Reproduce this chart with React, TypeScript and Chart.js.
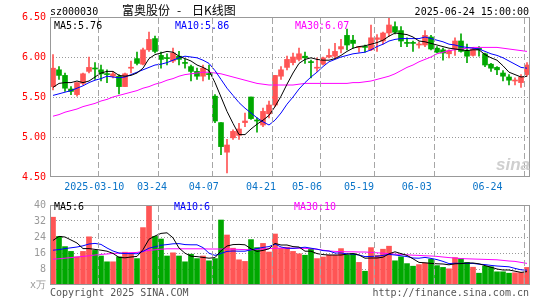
import React, { useEffect, useRef } from "react";
import { Chart, registerables } from "chart.js";

Chart.register(...registerables);

// ---------------- data ----------------
const dates = [
  "02-26","02-27","02-28","03-03","03-04","03-05","03-06","03-07","03-10","03-11",
  "03-12","03-13","03-14","03-17","03-18","03-19","03-20","03-21","03-24","03-25",
  "03-26","03-27","03-28","03-31","04-01","04-02","04-03","04-07","04-08","04-09",
  "04-10","04-11","04-14","04-15","04-16","04-17","04-18","04-21","04-22","04-23",
  "04-24","04-25","04-28","04-29","04-30","05-06","05-07","05-08","05-09","05-12",
  "05-13","05-14","05-15","05-16","05-19","05-20","05-21","05-22","05-23","05-26",
  "05-27","05-28","05-29","05-30","06-03","06-04","06-05","06-06","06-09","06-10",
  "06-11","06-12","06-13","06-16","06-17","06-18","06-19","06-20","06-23","06-24",
];

const openP = [
  5.63,5.84,5.77,5.60,5.53,5.67,5.82,5.86,5.84,5.79,
  5.76,5.76,5.63,5.86,5.98,5.91,6.09,6.23,6.02,5.99,
  5.95,6.01,5.93,5.88,5.82,5.76,5.79,5.51,5.18,4.81,
  4.99,5.02,5.18,5.50,5.21,5.15,5.29,5.40,5.76,5.87,
  5.93,5.97,6.01,5.94,5.86,5.91,6.00,6.01,6.10,6.27,
  6.21,6.12,6.13,6.09,6.22,6.20,6.30,6.38,6.33,6.18,
  6.18,6.15,6.15,6.25,6.11,6.09,6.04,6.10,6.20,6.08,
  6.02,6.11,6.04,5.91,5.87,5.80,5.75,5.70,5.68,5.78,
];
const highP = [
  6.03,5.88,5.80,5.63,5.68,5.80,6.00,5.93,5.90,5.84,
  5.81,5.78,5.80,5.95,6.06,6.11,6.31,6.26,6.06,6.04,
  6.11,6.07,5.97,5.90,5.86,5.90,5.90,5.53,5.18,4.97,
  5.09,5.17,5.30,5.50,5.24,5.36,5.45,5.77,5.88,6.01,
  6.05,6.11,6.06,5.96,5.99,6.00,6.10,6.17,6.22,6.35,
  6.27,6.13,6.15,6.40,6.28,6.31,6.49,6.44,6.38,6.24,
  6.20,6.19,6.33,6.27,6.13,6.11,6.09,6.24,6.29,6.16,
  6.12,6.13,6.05,5.92,5.88,5.83,5.78,5.74,5.78,5.93,
];
const lowP = [
  5.59,5.72,5.57,5.53,5.51,5.65,5.80,5.72,5.70,5.68,
  5.74,5.54,5.63,5.80,5.90,5.90,6.07,6.05,5.86,5.90,
  5.93,5.90,5.86,5.70,5.72,5.70,5.72,5.18,4.78,4.55,
  4.97,4.97,5.13,5.22,5.06,5.13,5.24,5.38,5.72,5.84,
  5.90,5.95,5.92,5.74,5.82,5.90,5.99,5.99,6.05,6.09,
  6.11,6.06,6.06,6.08,6.07,6.16,6.26,6.29,6.13,6.13,
  6.07,6.11,6.13,6.09,6.05,5.96,5.99,6.02,6.06,5.93,
  6.01,6.01,5.88,5.82,5.78,5.70,5.65,5.65,5.62,5.76,
];
const closeP = [
  5.86,5.77,5.61,5.57,5.68,5.79,5.87,5.85,5.79,5.78,
  5.79,5.63,5.79,5.87,5.92,6.09,6.22,6.07,5.97,5.98,
  6.05,5.97,5.92,5.82,5.76,5.86,5.78,5.20,4.88,4.90,
  5.07,5.10,5.20,5.23,5.20,5.32,5.40,5.77,5.84,5.97,
  6.00,6.04,5.99,5.93,5.87,5.99,6.02,6.07,6.13,6.15,
  6.17,6.13,6.12,6.24,6.24,6.30,6.40,6.31,6.20,6.17,
  6.17,6.16,6.27,6.10,6.06,6.05,6.08,6.20,6.07,6.01,
  6.10,6.09,5.90,5.86,5.84,5.76,5.71,5.71,5.75,5.90,
];

const ma5 = [
  5.62,5.67,5.68,5.68,5.70,5.68,5.70,5.75,5.80,5.82,
  5.82,5.77,5.76,5.77,5.80,5.86,5.98,6.03,6.05,6.07,
  6.06,6.01,5.98,5.95,5.90,5.87,5.83,5.68,5.50,5.32,
  5.17,5.03,5.03,5.10,5.16,5.21,5.27,5.38,5.51,5.66,
  5.80,5.92,5.97,5.99,5.97,5.96,5.96,5.98,6.02,6.07,
  6.11,6.13,6.14,6.16,6.18,6.21,6.26,6.30,6.29,6.28,
  6.25,6.20,6.19,6.17,6.15,6.13,6.11,6.10,6.09,6.08,
  6.09,6.09,6.03,5.99,5.96,5.89,5.81,5.78,5.75,5.76,
];
const ma10 = [
  5.52,5.54,5.56,5.58,5.61,5.64,5.68,5.71,5.73,5.76,
  5.75,5.74,5.75,5.78,5.81,5.84,5.87,5.90,5.91,5.93,
  5.96,5.99,6.01,6.00,5.99,5.96,5.92,5.83,5.72,5.61,
  5.52,5.43,5.36,5.30,5.24,5.19,5.15,5.21,5.30,5.41,
  5.50,5.60,5.68,5.75,5.81,5.88,5.94,5.97,6.00,6.02,
  6.04,6.05,6.06,6.09,6.13,6.16,6.20,6.22,6.23,6.23,
  6.23,6.23,6.25,6.23,6.21,6.19,6.16,6.15,6.13,6.12,
  6.11,6.10,6.07,6.04,6.02,5.99,5.95,5.91,5.87,5.86,
];
const ma30 = [
  5.26,5.28,5.31,5.33,5.35,5.38,5.40,5.42,5.45,5.47,
  5.50,5.52,5.54,5.56,5.58,5.61,5.63,5.66,5.68,5.71,
  5.73,5.76,5.78,5.79,5.80,5.81,5.81,5.80,5.79,5.77,
  5.75,5.73,5.71,5.69,5.67,5.66,5.65,5.65,5.65,5.65,
  5.65,5.66,5.67,5.67,5.67,5.67,5.67,5.67,5.67,5.67,
  5.68,5.68,5.69,5.70,5.72,5.74,5.76,5.79,5.83,5.87,
  5.90,5.94,5.97,6.00,6.04,6.06,6.08,6.09,6.10,6.11,
  6.12,6.12,6.12,6.12,6.12,6.11,6.10,6.09,6.08,6.07,
];

const volume = [
  33.9,24.3,19.2,16.8,14.1,16.8,24.1,17.3,14.5,11.6,
  11.6,14.1,16.4,16.1,13.2,28.7,40.0,24.3,23.0,14.5,
  16.1,14.5,11.6,15.4,13.2,14.5,12.1,13.2,32.5,25.0,
  18.4,12.6,11.8,22.7,18.7,20.8,16.5,25.5,18.4,18.9,
  16.8,15.6,14.9,18.1,13.2,14.0,14.9,14.9,18.2,14.9,
  15.7,11.3,6.9,18.7,14.9,17.9,19.4,12.1,14.1,10.7,
  9.4,10.2,11.0,12.9,9.7,8.8,8.1,13.7,13.2,11.3,
  8.9,5.9,9.4,9.1,6.6,6.6,5.9,6.1,6.2,8.8,
];
const volMa5 = [
  22.3,24.3,24.0,22.5,21.0,18.2,18.2,17.8,17.4,16.9,
  15.8,13.8,13.6,14.0,14.3,17.7,22.9,24.5,25.8,26.1,
  23.6,18.5,15.9,14.4,14.2,13.8,13.4,13.7,17.1,19.5,
  20.2,20.3,20.1,18.1,16.8,17.3,18.1,20.8,20.0,20.0,
  19.2,19.0,16.9,16.9,15.7,15.2,15.0,15.0,15.0,15.4,
  15.7,15.0,13.4,13.5,13.5,13.9,15.6,16.6,15.7,14.8,
  13.1,11.3,11.1,10.8,10.6,10.5,10.1,10.6,10.7,11.0,
  11.0,10.6,9.7,8.9,8.0,7.5,7.5,6.9,6.3,6.7,
];
const volMa10 = [
  17.4,17.7,18.2,18.6,19.0,19.6,20.5,20.8,20.3,18.5,
  17.0,16.0,15.7,15.7,15.6,16.8,18.4,19.1,19.9,20.2,
  20.6,20.7,20.2,20.1,20.1,18.7,15.9,14.8,15.8,16.8,
  17.0,16.9,16.9,17.6,18.2,18.8,19.2,20.5,19.0,18.4,
  18.3,18.6,18.9,18.4,17.9,17.2,17.0,16.0,16.0,15.6,
  15.4,15.0,14.2,14.3,14.4,14.8,15.3,15.0,14.6,14.2,
  13.5,13.4,13.8,13.3,12.7,11.8,10.7,10.9,10.8,10.8,
  10.8,10.4,10.2,9.8,9.5,9.3,9.1,8.3,7.6,7.4,
];
const volMa30 = [
  12.9,13.1,13.4,13.7,14.0,14.3,14.6,15.0,15.3,15.5,
  15.8,15.9,16.0,16.1,16.3,16.8,17.3,17.6,17.9,18.1,
  18.1,18.1,18.1,18.1,18.1,18.1,18.0,18.0,18.0,18.0,
  17.9,17.8,17.7,17.6,17.8,18.0,18.2,18.4,18.4,18.4,
  18.4,18.4,18.3,18.1,17.9,17.4,17.0,16.8,16.7,16.6,
  16.6,16.5,16.5,16.3,16.1,15.9,15.7,15.4,15.3,15.1,
  14.9,14.8,14.6,14.5,14.3,14.0,13.7,13.5,13.2,13.1,
  13.0,12.9,12.8,12.7,12.6,12.3,12.0,11.8,11.3,10.8,
];

const gridDates = ["03-10","03-24","04-07","04-21","05-06","05-19","06-03","06-24"];
// the same days as positions in `dates`
const gridDayIndex = [8, 18, 27, 37, 45, 54, 64, 79];
const tickLabels = ["2025-03-10","03-24","04-07","04-21","05-06","05-19","06-03","06-24"];

const priceMin = 4.5;
const priceMax = 6.5;
const priceStep = 0.5;
const volMin = 0;
const volMax = 40;
const volStep = 8;

// ---------------- layout / style ----------------
const N = dates.length;
const MONO = '"DejaVu Sans Mono", "Liberation Mono", monospace';
const RED = "#ff5555";
const GREEN = "#00a800";
const candleColor = closeP.map((c, i) => (c >= openP[i] ? RED : GREEN));
// where Sina prints the date labels (in candle-slot units)
const LABEL_SLOTS = [6.88, 16.5, 25.12, 34.67, 42.33, 51.0, 60.62, 72.42];

// grey dashed vertical grid lines at the left edge of the marked days,
// then the grey box round the plot area
const framePlugin = {
  id: "frame",
  afterDraw(chart: any) {
    const ctx = chart.ctx as CanvasRenderingContext2D;
    const a = chart.chartArea;
    const left = Math.round(a.left);
    const right = Math.round(a.right);
    const top = Math.round(a.top);
    const bottom = Math.round(a.bottom);
    const slot = (right - left) / N;
    ctx.save();
    ctx.globalCompositeOperation = "source-over";
    ctx.globalAlpha = 1;
    ctx.fillStyle = "#a6a6a6";
    for (let k = 0; k < gridDayIndex.length; k++) {
      const found = dates.indexOf(gridDates[k]);
      const idx = found >= 0 ? found : gridDayIndex[k];
      const px = Math.round(left + idx * slot);
      for (let y = top + 1; y < bottom - 1; y += 9) {
        ctx.fillRect(px, y, 1, Math.min(6, bottom - 1 - y));
      }
    }
    ctx.fillStyle = "#999999";
    ctx.fillRect(left, top, right - left, 1);
    ctx.fillRect(left, bottom - 1, right - left, 1);
    ctx.fillRect(left, top, 1, bottom - top);
    ctx.fillRect(right - 1, top, 1, bottom - top);
    ctx.restore();
  },
};

const xCategoryAxis = () => ({
  type: "category" as const,
  offset: true,
  grid: { display: false, drawTicks: false },
  border: { display: false },
  ticks: { display: false, autoSkip: false },
  afterFit: (s: any) => {
    s.height = 0;
  },
});

const lineDs = (data: number[], color: string) => ({
  type: "line" as const,
  data,
  borderColor: color,
  borderWidth: 1,
  pointRadius: 0,
  tension: 0,
  fill: false,
  order: 1,
});

export default function App() {
  const priceRef = useRef<HTMLCanvasElement>(null);
  const volRef = useRef<HTMLCanvasElement>(null);

  useEffect(() => {
    const font = { family: MONO, size: 10 };
    const priceChart = new Chart(priceRef.current as HTMLCanvasElement, {
      type: "bar",
      data: {
        labels: dates,
        datasets: [
          lineDs(ma5, "#000000"),
          lineDs(ma10, "#0000ff"),
          lineDs(ma30, "#ff00ff"),
          {
            type: "bar",
            data: closeP.map((c, i) => [openP[i], c]),
            backgroundColor: candleColor,
            barThickness: 5,
            minBarLength: 1,
            grouped: false,
            order: 2,
          },
          {
            type: "bar",
            data: highP.map((h, i) => [lowP[i], h]),
            backgroundColor: candleColor,
            barThickness: 1,
            grouped: false,
            order: 3,
          },
        ] as any,
      },
      options: {
        responsive: false,
        animation: false,
        events: [],
        layout: { padding: { left: 0, right: 15, top: 17, bottom: 0 } },
        plugins: { legend: { display: false }, tooltip: { enabled: false }, title: { display: false } },
        scales: {
          x: xCategoryAxis(),
          xl: {
            type: "linear",
            position: "bottom",
            offset: false,
            min: -0.5,
            max: N - 0.5,
            bounds: "data",
            grid: { display: false, drawTicks: false, offset: false },
            border: { display: false },
            afterBuildTicks: (s: any) => {
              s.ticks = LABEL_SLOTS.map((v) => ({ value: v }));
            },
            ticks: {
              autoSkip: false,
              maxRotation: 0,
              padding: 4,
              color: "#0a74c8",
              font,
              callback: (_v: any, i: number) => tickLabels[i],
            },
            afterFit: (s: any) => {
              s.height = 23;
            },
          },
          y: {
            type: "linear",
            position: "left",
            min: priceMin,
            max: priceMax,
            afterFit: (s: any) => {
              s.width = 50;
            },
            grid: {
              drawTicks: false,
              color: (c: any) =>
                c.tick && c.tick.value > priceMin && c.tick.value < priceMax ? "#999" : "rgba(0,0,0,0)",
            },
            border: { display: false, dash: [1, 2] },
            ticks: {
              stepSize: priceStep,
              padding: 4,
              color: "#ff0000",
              font,
              callback: (v: any) => Number(v).toFixed(2),
            },
          },
        } as any,
      },
      plugins: [framePlugin],
    });

    const volChart = new Chart(volRef.current as HTMLCanvasElement, {
      type: "bar",
      data: {
        labels: dates,
        datasets: [
          lineDs(volMa5, "#000000"),
          lineDs(volMa10, "#0000ff"),
          lineDs(volMa30, "#ff00ff"),
          {
            type: "bar",
            data: volume,
            backgroundColor: candleColor,
            barThickness: 5,
            grouped: false,
            order: 2,
          },
        ] as any,
      },
      options: {
        responsive: false,
        animation: false,
        events: [],
        layout: { padding: { left: 0, right: 15, top: 6, bottom: 15 } },
        plugins: { legend: { display: false }, tooltip: { enabled: false }, title: { display: false } },
        scales: {
          x: xCategoryAxis(),
          y: {
            type: "linear",
            position: "left",
            min: volMin,
            max: volMax,
            afterFit: (s: any) => {
              s.width = 50;
            },
            grid: {
              drawTicks: false,
              color: (c: any) =>
                c.tick && c.tick.value > volMin && c.tick.value < volMax ? "#999" : "rgba(0,0,0,0)",
            },
            border: { display: false, dash: [1, 2] },
            ticks: {
              stepSize: volStep,
              autoSkip: false,
              padding: 4,
              color: "#999",
              font,
              callback: (v: any) => (Number(v) === 0 ? "x万" : String(v)),
            },
          },
        } as any,
      },
      plugins: [framePlugin],
    });

    return () => {
      priceChart.destroy();
      volChart.destroy();
    };
  }, []);

  const txt = (s: React.CSSProperties): React.CSSProperties => ({
    position: "absolute",
    fontFamily: MONO,
    fontSize: 10,
    lineHeight: "10px",
    whiteSpace: "pre",
    color: "#000",
    ...s,
  });
  const cjk = (s: React.CSSProperties): React.CSSProperties =>
    txt({ fontFamily: '"Noto Sans CJK SC", sans-serif', fontSize: 12, lineHeight: "12px", top: 3.5, ...s });

  return (
    <div
      style={{
        position: "fixed",
        left: 0,
        top: 0,
        width: 545,
        height: 300,
        background: "#fff",
        overflow: "hidden",
      }}
    >
      <canvas
        ref={priceRef}
        width={545}
        height={200}
        style={{ position: "absolute", left: 0, top: 0, width: 545, height: 200 }}
      />
      <canvas
        ref={volRef}
        width={545}
        height={105}
        style={{ position: "absolute", left: 0, top: 195, width: 545, height: 105 }}
      />
      <div style={txt({ left: 50, top: 6.5 })}>sz000030</div>
      <div style={cjk({ left: 122 })}>富奥股份</div>
      <div style={cjk({ left: 177 })}>-</div>
      <div style={cjk({ left: 192 })}>日K线图</div>
      <div style={txt({ right: 16, top: 6.5 })}>2025-06-24 15:00:00</div>

      <div style={txt({ left: 54, top: 21 })}>MA5:5.76</div>
      <div style={txt({ left: 175, top: 21, color: "#0000ff" })}>MA10:5.86</div>
      <div style={txt({ left: 295, top: 21, color: "#ff00ff" })}>MA30:6.07</div>

      <div style={txt({ left: 54, top: 201.5 })}>MA5:6</div>
      <div style={txt({ left: 174, top: 201.5, color: "#0000ff" })}>MA10:6</div>
      <div style={txt({ left: 294, top: 201.5, color: "#ff00ff" })}>MA30:10</div>

      <div style={txt({ left: 50, top: 288, color: "#555" })}>Copyright 2025 SINA.COM</div>
      <div style={txt({ right: 16, top: 288, color: "#555" })}>http://finance.sina.com.cn</div>

      <div
        style={{
          position: "absolute",
          left: 496,
          top: 156,
          fontFamily: '"Liberation Sans", sans-serif',
          fontWeight: "bold",
          fontStyle: "italic",
          fontSize: 17,
          lineHeight: "17px",
          color: "#cfcfcf",
          whiteSpace: "pre",
        }}
      >
        sina
      </div>
    </div>
  );
}
